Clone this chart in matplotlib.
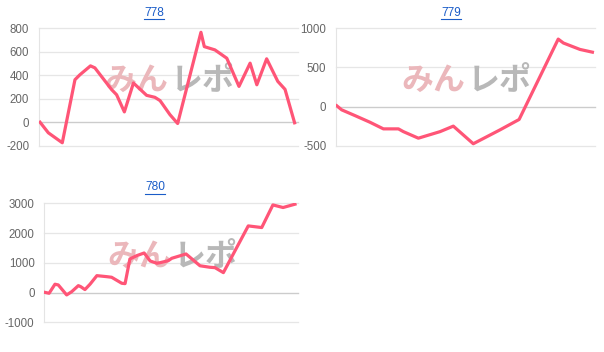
import matplotlib
matplotlib.use("Agg")
import matplotlib.pyplot as plt
from matplotlib.lines import Line2D

plt.rcParams['font.family'] = ['Liberation Sans', 'Noto Sans CJK JP', 'DejaVu Sans']
plt.rcParams['axes.unicode_minus'] = False

# ---- data ----
titles = ["778", "779", "780"]

x778 = [4, 36, 90, 139, 158, 199, 216, 281, 300, 330, 365, 416, 448, 468, 506, 536,
        626, 639, 680, 726, 773, 816, 842, 880, 923, 951, 988]
y778 = [0, -90, -175, 362, 404, 480, 463, 277, 234, 88, 334, 229, 212, 184, 65, -11,
        766, 644, 616, 545, 305, 503, 319, 540, 348, 280, -5]

x779 = [3, 22, 73, 131, 183, 241, 260, 318, 402, 453, 530, 633, 707, 858, 878, 942, 990]
y779 = [10, -42, -115, -200, -285, -285, -320, -404, -320, -250, -475, -298, -165,
        862, 812, 730, 695]

x780 = [0, 19, 42, 55, 88, 108, 134, 143, 160, 180, 207, 246, 265, 305, 318, 337, 364,
        393, 417, 443, 456, 488, 502, 558, 613, 652, 672, 705, 803, 856, 900, 940, 987]
y780 = [10, -24, 280, 256, -80, 30, 232, 200, 100, 280, 568, 534, 514, 312, 300, 1130,
        1240, 1330, 1060, 985, 1005, 1070, 1152, 1297, 900, 850, 837, 670, 2240, 2185,
        2945, 2858, 2970]

ticks778 = [-200, 0, 200, 400, 600, 800]
ticks779 = [-500, 0, 500, 1000]
ticks780 = [-1000, 0, 1000, 2000, 3000]

W, H = 604, 352
fig = plt.figure(figsize=(W / 100, H / 100), dpi=100)

line_color = '#ff5577'
title_color = '#1a5cc8'

panels = [
    (x778, y778, ticks778, (39, 28.3, 258.7, 117.4), (154, 12.5)),
    (x779, y779, ticks779, (336, 28.3, 259, 117.4), (451, 12.5)),
    (x780, y780, ticks780, (44.3, 203.3, 254, 119), (155, 187.5)),
]

title_texts = []
for (xs, ys, ticks, (l, t, w, h), (tx, ty)), title in zip(panels, titles):
    ax = fig.add_axes([l / W, 1 - (t + h) / H, w / W, h / H])
    ax.plot(xs, ys, color=line_color, lw=2.3, solid_joinstyle='round', zorder=3)
    ax.set_xlim(0, 1000)
    ax.set_ylim(ticks[0], ticks[-1])
    ax.set_yticks(ticks)
    ax.set_xticks([])
    for tk in ticks:
        ax.axhline(tk, color='#cccccc' if tk == 0 else '#e6e6e6',
                   lw=1.0 if tk == 0 else 0.9, zorder=1, clip_on=False)
    for s in ['top', 'right', 'bottom']:
        ax.spines[s].set_visible(False)
    ax.spines['left'].set_color('#e4e4e4')
    ax.spines['left'].set_linewidth(0.8)
    ax.tick_params(axis='y', length=0, pad=7, labelsize=8.3, labelcolor='#666666')
    ax.set_facecolor('none')
    # watermark
    ax.text(0.5, 0.55, "みん", transform=ax.transAxes, ha='right', va='center',
            fontsize=23, fontweight='bold', color='#ebb7bb',
            family=['Noto Sans CJK JP', 'DejaVu Sans'], zorder=2)
    ax.text(0.51, 0.55, "レポ", transform=ax.transAxes, ha='left', va='center',
            fontsize=23, fontweight='bold', color='#b8b8b8',
            family=['Noto Sans CJK JP', 'DejaVu Sans'], zorder=2)
    tt = fig.text(tx / W, 1 - ty / H, title, ha='center', va='center',
                  fontsize=8.6, color=title_color)
    title_texts.append(tt)

fig.canvas.draw()
r = fig.canvas.get_renderer()
for tt in title_texts:
    bb = tt.get_window_extent(renderer=r)
    yline = (bb.y0 - 0.5) / H
    fig.add_artist(Line2D([bb.x0 / W, bb.x1 / W], [yline, yline],
                          transform=fig.transFigure, color=title_color, lw=0.8))

fig.savefig("out.png", dpi=100)
